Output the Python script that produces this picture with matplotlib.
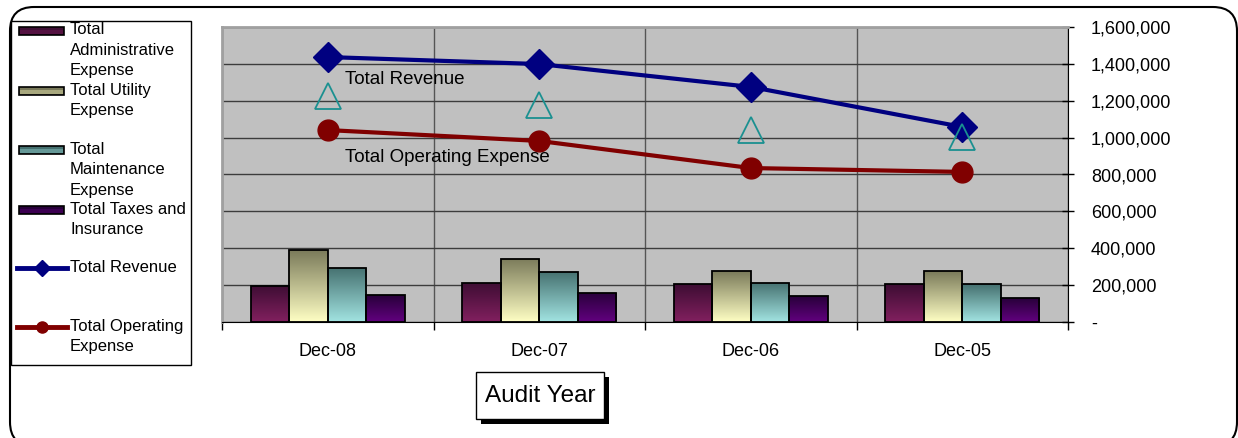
import numpy as np
import matplotlib
matplotlib.use("Agg")
import matplotlib.pyplot as plt
from matplotlib.colors import LinearSegmentedColormap
from matplotlib.patches import Rectangle, FancyBboxPatch
from matplotlib.lines import Line2D
from matplotlib.ticker import FuncFormatter
from matplotlib.transforms import IdentityTransform

plt.rcParams['font.family'] = ['Liberation Sans', 'DejaVu Sans']

# data
years = ['Dec-08', 'Dec-07', 'Dec-06', 'Dec-05']
admin_exp = [197000, 213000, 206000, 206000]
utility_exp = [390000, 343000, 275000, 275000]
maint_exp = [295000, 273000, 213000, 204000]
taxes_ins = [146000, 159000, 139000, 130000]
total_revenue = [1437000, 1399000, 1275000, 1058000]
total_opex = [1041000, 982000, 835000, 814000]
triangle_series = [1226000, 1177000, 1041000, 1003000]

bar_series = [
    ('Total\nAdministrative\nExpense', admin_exp, '#3d0d33', '#82205f'),
    ('Total Utility\nExpense', utility_exp, '#7a7a5a', '#ffffc4'),
    ('Total\nMaintenance\nExpense', maint_exp, '#45706f', '#a2e4e2'),
    ('Total Taxes and\nInsurance', taxes_ins, '#28003a', '#62007f'),
]

W, H = 1238, 438
fig = plt.figure(figsize=(W / 100, H / 100), dpi=100)
fig.patch.set_facecolor('white')

# plot area in pixels
x0, x1, ytop, ybot = 222, 1068, 27, 322
ax = fig.add_axes([x0 / W, (H - ybot) / H, (x1 - x0) / W, (ybot - ytop) / H])
ax.set_facecolor('#c0c0c0')
ax.set_axisbelow(True)

x = np.arange(len(years))
bw = 0.182
grad = np.linspace(0, 1, 256).reshape(-1, 1)
for i, (name, vals, dark, light) in enumerate(bar_series):
    cmap = LinearSegmentedColormap.from_list('g%d' % i, [dark, light])
    bars = ax.bar(x + (i - 1.5) * bw, vals, width=bw, facecolor='none',
                  edgecolor='black', linewidth=1.3, zorder=3)
    for b in bars:
        bx = b.get_x()
        im = ax.imshow(grad, extent=[bx, bx + bw, 0, b.get_height()],
                       aspect='auto', cmap=cmap, origin='upper', zorder=2.5)
        im.set_clip_path(b)

ax.plot(x, total_revenue, color='#000080', lw=3, marker='D', ms=15, zorder=5)
ax.plot(x, total_opex, color='#800000', lw=3, marker='o', ms=15, zorder=5)
ax.plot(x, triangle_series, ls='none', marker='^', ms=19, mfc='none',
        mec='#1a9090', mew=1.3, zorder=6)

ax.set_xlim(-0.5, 3.5)
ax.set_ylim(0, 1600000)
ax.set_aspect('auto')

ax.yaxis.tick_right()
ax.set_yticks(np.arange(0, 1600001, 200000))
ax.yaxis.set_major_formatter(FuncFormatter(lambda v, p: '-' if v == 0 else f'{v:,.0f}'))
ax.tick_params(axis='y', direction='inout', length=9, width=1, pad=12, labelsize=13)
ax.yaxis.grid(True, color='#3c3c3c', lw=1)

ax.set_xticks([-0.5, 0.5, 1.5, 2.5, 3.5])
ax.set_xticklabels([])
ax.set_xticks(x, minor=True)
ax.set_xticklabels(years, minor=True)
ax.tick_params(axis='x', which='major', direction='out', length=6, width=1)
ax.tick_params(axis='x', which='minor', length=0, pad=15, labelsize=13)
ax.xaxis.grid(True, which='major', color='#555555', lw=1)

ax.spines['left'].set_color('#a0a0a0')
ax.spines['left'].set_linewidth(2)
ax.spines['top'].set_color('#a0a0a0')
ax.spines['top'].set_linewidth(2)
ax.spines['right'].set_color('black')
ax.spines['bottom'].set_color('black')

# outer rounded frame, in display pixels (y up), bottom runs off the image
fig.patches.append(FancyBboxPatch((10, -8), 1227, 439,
                                  boxstyle='round,pad=0,rounding_size=24',
                                  facecolor='none', edgecolor='black', lw=1.5,
                                  transform=IdentityTransform(), figure=fig))

# overlay in pixel coords for legend, labels and title box
ov = fig.add_axes([0, 0, 1, 1], zorder=10)
ov.set_xlim(0, W)
ov.set_ylim(H, 0)
ov.axis('off')
ov.patch.set_alpha(0)

ov.text(345, 80, 'Total Revenue', fontsize=13.5, va='center', ha='left')
ov.text(345, 158, 'Total Operating Expense', fontsize=13.5, va='center', ha='left')

# legend
ov.add_patch(Rectangle((11, 21), 180, 344, facecolor='white', edgecolor='black', lw=1))
ys = [30.5, 90.5, 150, 210]
for (name, vals, dark, light), yc in zip(bar_series, ys):
    ov.add_patch(Rectangle((19, yc - 4), 45, 8, facecolor=dark, edgecolor='black', lw=1.2))
    ov.add_patch(Rectangle((20, yc - 1), 43, 4, facecolor=light, edgecolor='none', alpha=0.35))
    ov.text(70, yc - 8, name, fontsize=12, va='top', ha='left', linespacing=1.45)
for label, col, mk, yc, ms in [('Total Revenue', '#000080', 'D', 268, 8),
                               ('Total Operating\nExpense', '#800000', 'o', 327, 8)]:
    ov.add_artist(Line2D([17, 67], [yc, yc], color=col, lw=3.5))
    ov.add_artist(Line2D([42], [yc], color=col, marker=mk, ms=ms, ls='none'))
    ov.text(70, yc - 8, label, fontsize=12, va='top', ha='left', linespacing=1.45)

# axis title box with shadow
ov.add_patch(Rectangle((481, 377), 128, 47, facecolor='black', edgecolor='none'))
ov.add_patch(Rectangle((476, 372), 128, 47, facecolor='white', edgecolor='black', lw=1))
ov.text(540, 396, 'Audit Year', fontsize=17.5, va='center', ha='center')

fig.savefig('out.png', dpi=100)
